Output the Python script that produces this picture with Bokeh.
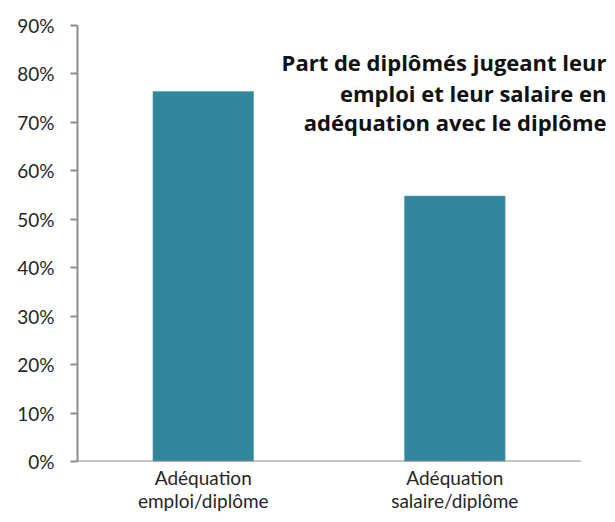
from bokeh.plotting import figure
from bokeh.models import (Range1d, FixedTicker, LinearAxis, Label)
from bokeh.embed import file_html
from bokeh.resources import INLINE

categories = ["Adéquation\nemploi/diplôme", "Adéquation\nsalaire/diplôme"]
values = [0.764, 0.548]
y_ticks = [0.0, 0.1, 0.2, 0.3, 0.4, 0.5, 0.6, 0.7, 0.8, 0.9]
y_tick_labels = ["0%", "10%", "20%", "30%", "40%", "50%", "60%", "70%", "80%", "90%"]
title_lines = ["Part de diplômés jugeant leur", "emploi et leur salaire en", "adéquation avec le diplôme"]

AXIS_COLOR = "#8c8c8c"
TEXT_COLOR = "#262626"
FONT = "Lato"

p = figure(width=607, height=514, output_backend="svg", toolbar_location=None,
           x_range=Range1d(0, 2.107), y_range=Range1d(0, 0.9),
           min_border_left=77, min_border_right=0, min_border_top=25, min_border_bottom=52,
           x_axis_type=None, y_axis_type=None)
p.outline_line_color = None
p.grid.grid_line_color = None
p.background_fill_color = "white"
p.border_fill_color = "white"

xs = [i + 0.5 for i in range(len(values))]
p.vbar(x=xs, top=values, width=0.4, bottom=0, fill_color="#32869c", line_color="#5f9fb2", line_width=0.6)

# y axis
yax = LinearAxis(ticker=FixedTicker(ticks=y_ticks))
yax.major_label_overrides = {t: l for t, l in zip(y_ticks, y_tick_labels)}
yax.axis_line_color = AXIS_COLOR
yax.axis_line_width = 2
yax.major_tick_line_color = AXIS_COLOR
yax.major_tick_line_width = 2
yax.major_tick_in = 0
yax.major_tick_out = 7
yax.minor_tick_line_color = None
yax.major_label_text_font = FONT
yax.major_label_text_font_size = "19px"
yax.major_label_text_color = TEXT_COLOR
yax.major_label_standoff = 16
p.add_layout(yax, "left")

# x axis (boundary ticks), drawn at y=0
xax = LinearAxis(ticker=FixedTicker(ticks=[0, 1, 2]), bounds=(0, 2))
xax.major_label_text_font_size = "0px"
xax.major_label_overrides = {0: "", 1: "", 2: ""}
xax.axis_line_color = AXIS_COLOR
xax.axis_line_width = 2
xax.major_tick_line_color = AXIS_COLOR
xax.major_tick_line_width = 2
xax.major_tick_in = 0
xax.major_tick_out = 6
xax.minor_tick_line_color = None
xax.fixed_location = 0
p.add_layout(xax, "below")

# category labels axis
cax = LinearAxis(ticker=FixedTicker(ticks=xs))
cax.major_label_overrides = {x: c for x, c in zip(xs, categories)}
cax.axis_line_color = None
cax.major_tick_line_color = None
cax.major_tick_out = 0
cax.major_tick_in = 0
cax.minor_tick_line_color = None
cax.major_label_text_font = FONT
cax.major_label_text_font_size = "19px"
cax.major_label_text_line_height = 1.0
cax.major_label_text_color = TEXT_COLOR
cax.major_label_standoff = 4
p.add_layout(cax, "below")

title_y = [0.8237, 0.760, 0.700]
for line, ty in zip(title_lines, title_y):
    p.add_layout(Label(x=2.103, y=ty, text=line,
                       text_align="right", text_baseline="middle", text_font="Open Sans",
                       text_font_style="bold", text_font_size="22px", text_color="#111111"))

open("out.html", "w").write(file_html(p, INLINE))
